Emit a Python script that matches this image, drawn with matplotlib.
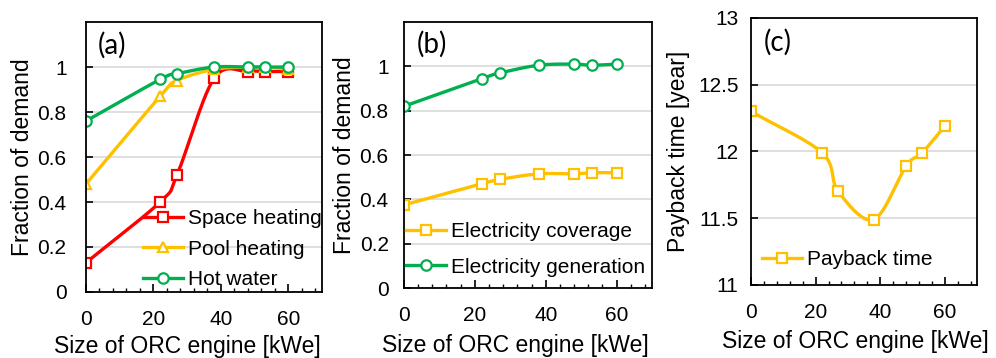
import numpy as np
import matplotlib
matplotlib.use('Agg')
import matplotlib.pyplot as plt
from matplotlib.ticker import MultipleLocator

plt.rcParams['font.family'] = ['Liberation Sans', 'DejaVu Sans']

# ORC engine sizes [kWe]
size_kwe = [0, 22, 27, 38, 48, 53, 60]

# (a) fraction of heat demand covered
space_heating = [0.13, 0.40, 0.52, 0.95, 0.98, 0.98, 0.98]
pool_heating = [0.48, 0.87, 0.94, 0.99, 1.00, 1.00, 0.99]
hot_water = [0.76, 0.945, 0.97, 1.00, 1.00, 1.00, 1.00]

# (b) electricity
elec_coverage = [0.375, 0.47, 0.49, 0.515, 0.515, 0.52, 0.52]
elec_generation = [0.82, 0.945, 0.97, 1.005, 1.01, 1.005, 1.01]

# (c) payback time [year]
payback = [12.3, 11.99, 11.7, 11.49, 11.89, 11.99, 12.19]

RED = '#FF0000'
GOLD = '#FFC000'
GREEN = '#00B050'


def smooth(x, y, n=30):
    # Excel-like smoothed line (Catmull-Rom through the points)
    x = np.asarray(x, float)
    y = np.asarray(y, float)
    px = np.concatenate([[2 * x[0] - x[1]], x, [2 * x[-1] - x[-2]]])
    py = np.concatenate([[2 * y[0] - y[1]], y, [2 * y[-1] - y[-2]]])
    t = np.linspace(0, 1, n)
    xs, ys = [], []
    for i in range(1, len(px) - 2):
        for p, out in ((px, xs), (py, ys)):
            p0, p1, p2, p3 = p[i - 1], p[i], p[i + 1], p[i + 2]
            out.extend(0.5 * (2 * p1 + (-p0 + p2) * t
                              + (2 * p0 - 5 * p1 + 4 * p2 - p3) * t ** 2
                              + (-p0 + 3 * p1 - 3 * p2 + p3) * t ** 3))
    return xs, ys


def draw(ax, y, color, marker, label):
    xs, ys = smooth(size_kwe, y)
    ax.plot(xs, ys, color=color, lw=2.4, solid_capstyle='round')
    ax.plot(size_kwe, y, ls='none', marker=marker, ms=7.5, mew=1.6,
            mec=color, mfc='white')
    # legend proxy
    ax.plot([], [], color=color, lw=2.4, marker=marker, ms=7.5, mew=1.6,
            mec=color, mfc='white', label=label)


def style(ax, ylim, ypad, letter, lx, ly, xlab_xy, ylab_x, ylabel):
    ax.set_xlim(0, 70)
    ax.set_ylim(*ylim)
    ax.xaxis.set_major_locator(MultipleLocator(20))
    ax.xaxis.set_minor_locator(MultipleLocator(4))
    ax.tick_params(axis='x', which='major', direction='in', length=6,
                   width=1.2, labelsize=15, pad=13)
    ax.tick_params(axis='x', which='minor', direction='in', length=3, width=1)
    ax.tick_params(axis='y', which='major', direction='in', length=5,
                   width=1.2, labelsize=15, pad=ypad)
    ax.tick_params(top=False, right=False)
    ax.grid(axis='y', color='#D9D9D9', lw=1.2)
    ax.set_axisbelow(True)
    for s in ax.spines.values():
        s.set_linewidth(1.3)
    ax.set_xlabel('Size of ORC engine [kWe]', fontsize=16.5)
    ax.xaxis.set_label_coords(*xlab_xy)
    ax.set_ylabel(ylabel, fontsize=16.5)
    ax.yaxis.set_label_coords(ylab_x, 0.5)
    ax.text(lx, ly, letter, transform=ax.transAxes, fontsize=20,
            va='top', ha='left', family=['Lato', 'DejaVu Sans'])


fig = plt.figure(figsize=(9.96, 3.58), dpi=100)
ax1 = fig.add_axes([0.0863, 0.1844, 0.237, 0.754])
ax2 = fig.add_axes([0.4056, 0.1955, 0.249, 0.743])
ax3 = fig.add_axes([0.754, 0.204, 0.227, 0.746])

fracs = [0, 0.2, 0.4, 0.6, 0.8, 1.0]
frac_labels = ['0', '0.2', '0.4', '0.6', '0.8', '1']
years = [11, 11.5, 12, 12.5, 13]
year_labels = ['11', '11.5', '12', '12.5', '13']

leg_kw = dict(frameon=False, fontsize=15, handlelength=1.9,
              handletextpad=0.25, borderaxespad=0, borderpad=0,
              loc='upper left')

# (a)
draw(ax1, space_heating, RED, 's', 'Space heating')
draw(ax1, pool_heating, GOLD, '^', 'Pool heating')
draw(ax1, hot_water, GREEN, 'o', 'Hot water')
style(ax1, (0, 1.2), 14, '(a)', 0.048, 0.965, (0.43, -0.158), -0.218,
      'Fraction of demand')
ax1.set_yticks(fracs)
ax1.set_yticklabels(frac_labels)
ax1.legend(bbox_to_anchor=(0.242, 0.307), labelspacing=0.55, **leg_kw)

# (b)
draw(ax2, elec_coverage, GOLD, 's', 'Electricity coverage')
draw(ax2, elec_generation, GREEN, 'o', 'Electricity generation')
style(ax2, (0, 1.2), 11, '(b)', 0.05, 0.965, (0.448, -0.172), -0.194,
      'Fraction of demand')
ax2.set_yticks(fracs)
ax2.set_yticklabels(frac_labels)
ax2.legend(bbox_to_anchor=(0.008, 0.248), labelspacing=0.8, **leg_kw)

# (c)
draw(ax3, payback, GOLD, 's', 'Payback time')
style(ax3, (11, 13), 9, '(c)', 0.055, 0.958, (0.46, -0.17), -0.27,
      'Payback time [year]')
ax3.set_yticks(years)
ax3.set_yticklabels(year_labels)
ax3.legend(bbox_to_anchor=(0.049, 0.131), **leg_kw)

fig.savefig('out.png', dpi=100)
